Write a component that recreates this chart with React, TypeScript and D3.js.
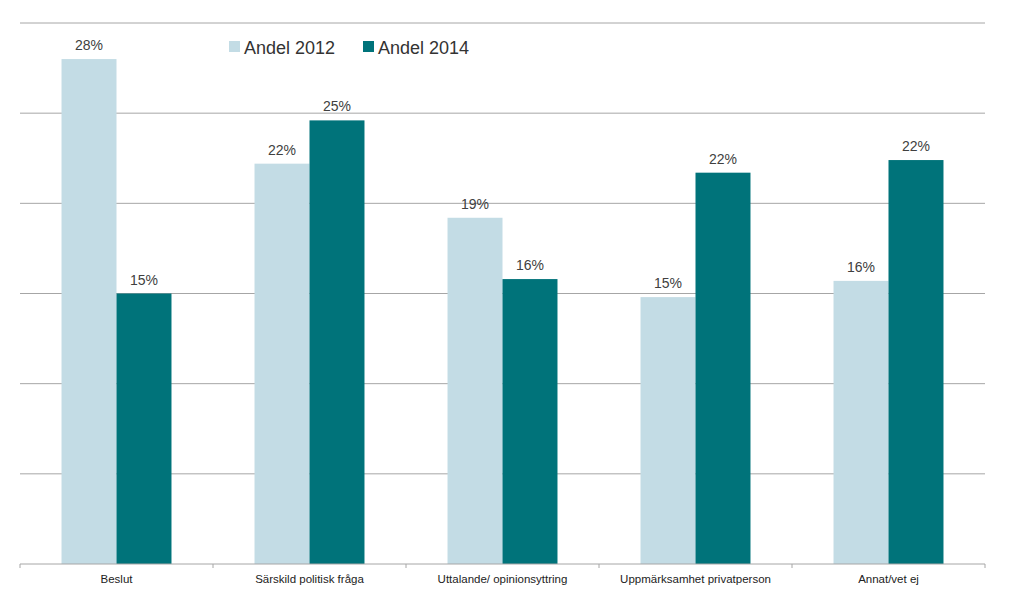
import { useEffect, useRef } from 'react'
import * as d3 from 'd3'

const categories = ['Beslut', 'Särskild politisk fråga', 'Uttalande/ opinionsyttring', 'Uppmärksamhet privatperson', 'Annat/vet ej']
const andel2012 = [28.0, 22.2, 19.2, 14.8, 15.7]
const andel2014 = [15.0, 24.6, 15.8, 21.7, 22.4]
const seriesNames = ['Andel 2012', 'Andel 2014']
const yTicks = [0, 5, 10, 15, 20, 25, 30]

const COLORS = ['#c3dce5', '#00737a']

export default function App(): JSX.Element {
  const ref = useRef<SVGSVGElement>(null)

  useEffect(() => {
    const node = ref.current
    if (!node) return
    const svg = d3.select(node)
    svg.selectAll('*').remove()

    const left = 20, right = 985, top = 23, bottom = 564

    const x = d3.scaleBand<string>().domain(categories).range([left, right]).paddingInner(0).paddingOuter(0)
    const inner = d3.scaleBand<string>().domain(seriesNames).range([0, x.bandwidth()]).paddingInner(0).paddingOuter(0.755)
    const y = d3.scaleLinear().domain([0, 30]).range([bottom, top])

    // gridlines
    svg.append('g').selectAll('line').data(yTicks.filter(t => t > 0)).join('line')
      .attr('x1', left).attr('x2', right)
      .attr('y1', d => y(d)).attr('y2', d => y(d))
      .attr('stroke', '#a6a6a6').attr('stroke-width', 1)

    const data = categories.map((c, i) => ({ c, vals: [andel2012[i], andel2014[i]] }))

    const groups = svg.append('g').selectAll('g').data(data).join('g')
      .attr('transform', d => `translate(${x(d.c)},0)`)

    groups.selectAll('rect').data(d => d.vals.map((v, j) => ({ v, s: seriesNames[j], j }))).join('rect')
      .attr('x', d => inner(d.s)!)
      .attr('width', inner.bandwidth())
      .attr('y', d => y(d.v))
      .attr('height', d => bottom - y(d.v))
      .attr('fill', d => COLORS[d.j])

    groups.selectAll('text').data(d => d.vals.map((v, j) => ({ v, s: seriesNames[j], j }))).join('text')
      .attr('x', d => inner(d.s)! + inner.bandwidth() / 2)
      .attr('y', d => y(d.v) - 9)
      .attr('text-anchor', 'middle')
      .attr('font-family', 'Liberation Sans, Arial, sans-serif')
      .attr('font-size', 14)
      .attr('fill', '#404040')
      .text(d => `${Math.round(d.v)}%`)

    // axis baseline and ticks
    const ax = svg.append('g')
    ax.append('line').attr('x1', left).attr('x2', right).attr('y1', bottom).attr('y2', bottom)
      .attr('stroke', '#a6a6a6')
    const tickXs = categories.map(c => x(c)!).concat([right])
    ax.selectAll('line.tick').data(tickXs).join('line').attr('class', 'tick')
      .attr('x1', d => d).attr('x2', d => d).attr('y1', bottom).attr('y2', bottom + 4)
      .attr('stroke', '#a6a6a6')
    ax.selectAll('text').data(categories).join('text')
      .attr('x', d => x(d)! + x.bandwidth() / 2)
      .attr('y', bottom + 19)
      .attr('text-anchor', 'middle')
      .attr('font-family', 'Liberation Sans, Arial, sans-serif')
      .attr('font-size', 11.5)
      .attr('fill', '#222')
      .text(d => d)

    // legend
    const legendX = [229, 363]
    const lg = svg.append('g').selectAll('g').data(seriesNames).join('g')
      .attr('transform', (_d, i) => `translate(${legendX[i]},0)`)
    lg.append('rect').attr('x', 0).attr('y', 41).attr('width', 11).attr('height', 11)
      .attr('fill', (_d, i) => COLORS[i])
    lg.append('text').attr('x', 15).attr('y', 54)
      .attr('font-family', 'Liberation Sans, Arial, sans-serif')
      .attr('font-size', 18)
      .attr('fill', '#333')
      .text(d => d)
  }, [])

  return (
    <svg ref={ref} width={1024} height={596} style={{ position: 'absolute', left: 0, top: 0, background: '#fff' }} />
  )
}
